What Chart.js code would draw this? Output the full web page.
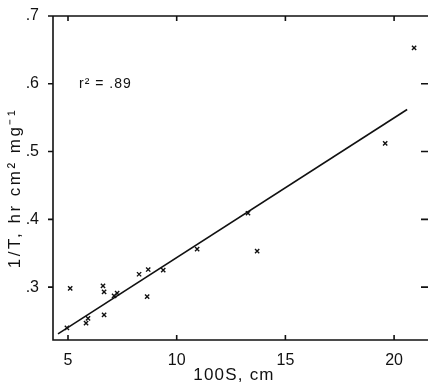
<!DOCTYPE html>
<html>
<head>
<meta charset="utf-8">
<script src="https://cdn.jsdelivr.net/npm/chart.js@4/dist/chart.umd.min.js"></script>
<style>
  html, body { margin: 0; padding: 0; background: #fff; }
  #wrap { width: 428px; height: 385px; }
</style>
</head>
<body>
<div id="wrap"><canvas id="chart"></canvas></div>
<script>
// dados
var xPontos = [4.95, 5.1, 5.83, 5.92, 6.61, 6.66, 6.66, 7.12, 7.26, 8.27, 8.69, 8.64, 9.38, 10.94, 13.28, 13.7, 19.59, 20.92];
var yPontos = [0.240, 0.298, 0.247, 0.254, 0.302, 0.293, 0.259, 0.287, 0.291, 0.319, 0.326, 0.286, 0.325, 0.356, 0.409, 0.353, 0.512, 0.653];

// reta de regressao (extremos)
var xReta = [4.54, 20.6];
var yReta = [0.231, 0.562];

var xTicks = [5, 10, 15, 20];
var yTicks = [0.3, 0.4, 0.5, 0.6, 0.7];
var r2Texto = 'r² = .89';
var tituloX = '100S, cm';
var tituloY = '1/T, hr cm² mg⁻¹';

var fonte = '"Liberation Sans", Arial, sans-serif';

// eixos (a borda direita fica fora da figura), marcas internas e textos
var moldura = {
    id: 'moldura',
    afterDraw: function(chart) {
        var ctx = chart.ctx, a = chart.chartArea;
        var sx = chart.scales.x, sy = chart.scales.y;
        ctx.save();
        ctx.strokeStyle = '#111';
        ctx.lineWidth = 1.6;
        ctx.beginPath();
        ctx.moveTo(a.right, a.top); ctx.lineTo(a.left, a.top);
        ctx.lineTo(a.left, a.bottom); ctx.lineTo(a.right, a.bottom);
        xTicks.forEach(function(v) {
            var px = sx.getPixelForValue(v);
            ctx.moveTo(px, a.bottom); ctx.lineTo(px, a.bottom - 5);
            ctx.moveTo(px, a.top); ctx.lineTo(px, a.top + 5);
        });
        yTicks.forEach(function(v) {
            var py = sy.getPixelForValue(v);
            ctx.moveTo(a.left, py); ctx.lineTo(a.left - 5, py);
            ctx.moveTo(a.right, py); ctx.lineTo(a.right - 7, py);
        });
        ctx.stroke();

        ctx.fillStyle = '#111';
        ctx.textBaseline = 'middle';

        // r2
        ctx.font = '14px ' + fonte;
        ctx.letterSpacing = '1px';
        ctx.textAlign = 'left';
        ctx.fillText(r2Texto, 79, sy.getPixelForValue(0.6));

        // titulo x
        ctx.font = '17px ' + fonte;
        ctx.letterSpacing = '1.2px';
        ctx.textAlign = 'center';
        ctx.fillText(tituloX, 234, 375);

        // titulo y
        ctx.translate(15, 188);
        ctx.rotate(-Math.PI / 2);
        ctx.letterSpacing = '2.5px';
        ctx.fillText(tituloY, 0, 0);
        ctx.restore();
    }
};

var pontos = xPontos.map(function(x, i) { return {x: x, y: yPontos[i]}; });
var reta = xReta.map(function(x, i) { return {x: x, y: yReta[i]}; });

new Chart(document.getElementById('chart'), {
    type: 'scatter',
    data: {
        datasets: [
            {
                data: pontos,
                pointStyle: 'crossRot',
                pointRadius: 3,
                pointBorderWidth: 1.4,
                borderColor: '#111',
                backgroundColor: '#111'
            },
            {
                type: 'line',
                data: reta,
                borderColor: '#111',
                borderWidth: 1.6,
                pointRadius: 0,
                fill: false
            }
        ]
    },
    options: {
        responsive: true,
        maintainAspectRatio: false,
        animation: false,
        layout: { autoPadding: false, padding: { top: 16, right: 0, left: 0, bottom: 0 } },
        plugins: {
            legend: { display: false },
            tooltip: { enabled: false }
        },
        scales: {
            x: {
                type: 'linear',
                min: 4.31,
                max: 21.56,
                afterBuildTicks: function(s) { s.ticks = xTicks.map(function(v) { return {value: v}; }); },
                afterFit: function(s) { s.height = 45; },
                grid: { display: false },
                border: { display: false },
                ticks: {
                    color: '#111',
                    font: { family: fonte, size: 16 },
                    padding: 3,
                    maxRotation: 0
                }
            },
            y: {
                type: 'linear',
                min: 0.222,
                max: 0.7,
                afterBuildTicks: function(s) { s.ticks = yTicks.map(function(v) { return {value: v}; }); },
                afterFit: function(s) { s.width = 53; },
                grid: { display: false },
                border: { display: false },
                ticks: {
                    color: '#111',
                    font: { family: fonte, size: 16 },
                    padding: 6,
                    callback: function(v) { return v.toFixed(1).replace(/^0/, ''); }
                }
            }
        }
    },
    plugins: [moldura]
});
</script>
</body>
</html>
